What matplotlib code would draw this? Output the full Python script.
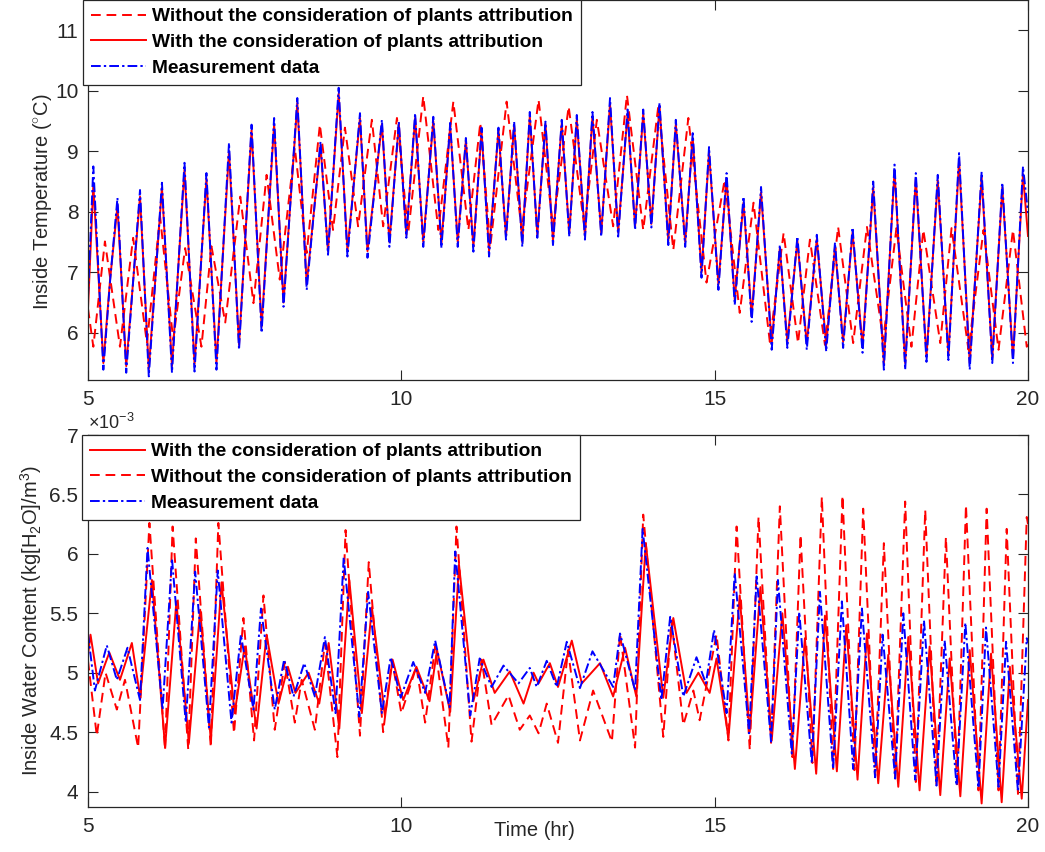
import matplotlib
matplotlib.use("Agg")
import matplotlib.pyplot as plt
import numpy as np

plt.rcParams['font.family'] = ['Liberation Sans', 'DejaVu Sans']
plt.rcParams['mathtext.fontset'] = 'custom'
plt.rcParams['mathtext.rm'] = 'Liberation Sans'
plt.rcParams['mathtext.it'] = 'Liberation Sans:italic'

# ---- top panel: inside temperature (deg C), values read at the peaks/troughs ----
t_temp = [5.00, 5.085, 5.245, 5.35, 5.47, 5.61, 5.83, 5.97, 6.18, 6.34, 6.54, 6.70, 6.89, 7.05,
          7.25, 7.41, 7.61, 7.77, 7.97, 8.12, 8.34, 8.49, 8.71, 8.83, 9.00, 9.14, 9.34, 9.46,
          9.69, 9.81, 9.96, 10.08, 10.22, 10.35, 10.51, 10.64, 10.78, 10.90, 11.03, 11.15, 11.28,
          11.40, 11.55, 11.67, 11.80, 11.93, 12.05, 12.17, 12.30, 12.42, 12.56, 12.68, 12.80,
          12.93, 13.05, 13.19, 13.33, 13.46, 13.61, 13.73, 13.86, 13.99, 14.12, 14.26, 14.38,
          14.53, 14.65, 14.79, 14.91, 15.06, 15.19, 15.32, 15.46, 15.59, 15.74, 15.91, 16.04,
          16.16, 16.32, 16.47, 16.63, 16.78, 16.92, 17.05, 17.20, 17.36, 17.53, 17.70, 17.87,
          18.04, 18.21, 18.38, 18.56, 18.73, 18.90, 19.07, 19.26, 19.43, 19.59, 19.76, 19.92, 20.00]
temp_meas = [6.6, 8.75, 5.39, 6.83, 8.23, 5.34, 8.36, 5.28, 8.48, 5.34, 8.81, 5.36, 8.64, 5.39,
             9.14, 5.72, 9.44, 6.00, 9.55, 6.43, 9.88, 6.71, 9.16, 7.29, 10.05, 7.26, 9.63, 7.24,
             9.52, 7.42, 9.49, 7.57, 9.63, 7.42, 9.57, 7.40, 9.47, 7.42, 9.22, 7.34, 9.39,
             7.26, 9.39, 7.54, 9.49, 7.42, 9.65, 7.57, 9.49, 7.45, 9.52, 7.59, 9.60,
             7.54, 9.65, 7.59, 9.88, 7.59, 9.69, 7.70, 9.69, 7.74, 9.80, 7.45, 9.52,
             7.42, 9.30, 6.91, 9.07, 6.71, 8.64, 6.46, 8.25, 6.18, 8.41, 5.72, 7.45,
             5.75, 7.59, 5.72, 7.62, 5.69, 7.49, 5.75, 7.74, 5.67, 8.50, 5.39, 8.78,
             5.39, 8.64, 5.52, 8.61, 5.55, 8.97, 5.39, 8.66, 5.50, 8.48, 5.50, 8.75, 7.98]
temp_with = [6.4, 8.45, 5.50, 6.85, 8.10, 5.45, 8.25, 5.40, 8.40, 5.45, 8.70, 5.48, 8.55, 5.50,
             9.00, 5.80, 9.35, 6.10, 9.45, 6.50, 9.80, 6.80, 9.10, 7.35, 9.95, 7.35, 9.55, 7.35,
             9.45, 7.50, 9.45, 7.62, 9.55, 7.50, 9.50, 7.48, 9.42, 7.50, 9.18, 7.42, 9.33,
             7.35, 9.35, 7.60, 9.43, 7.50, 9.58, 7.62, 9.45, 7.52, 9.46, 7.65, 9.53,
             7.60, 9.58, 7.65, 9.78, 7.66, 9.62, 7.76, 9.62, 7.80, 9.75, 7.52, 9.45,
             7.50, 9.22, 7.00, 8.98, 6.80, 8.55, 6.55, 8.15, 6.28, 8.32, 5.82, 7.40,
             5.85, 7.52, 5.82, 7.55, 5.80, 7.42, 5.85, 7.66, 5.78, 8.40, 5.50, 8.68,
             5.50, 8.55, 5.60, 8.52, 5.63, 8.85, 5.50, 8.57, 5.58, 8.40, 5.58, 8.62, 7.60]
t_temp_without = [5.00, 5.085, 5.27, 5.51, 5.72, 5.94, 6.15, 6.36, 6.55, 6.81, 6.97, 7.19, 7.43,
                  7.64, 7.85, 8.06, 8.30, 8.49, 8.70, 8.91, 9.10, 9.31, 9.53, 9.71, 9.93, 10.11,
                  10.35, 10.59, 10.83, 11.07, 11.26, 11.42, 11.68, 11.92, 12.19, 12.42, 12.67,
                  12.92, 13.12, 13.38, 13.60, 13.86, 14.10, 14.34, 14.58, 14.87, 15.16, 15.40,
                  15.62, 15.88, 16.10, 16.33, 16.52, 16.76, 16.97, 17.21, 17.43, 17.69, 17.90,
                  18.14, 18.33, 18.60, 18.78, 19.05, 19.29, 19.53, 19.76, 19.98, 20.00]
temp_without = [6.4, 5.77, 7.51, 5.77, 7.57, 5.83, 7.92, 5.88, 7.40, 5.77, 7.43, 6.17, 8.25,
                6.49, 8.61, 6.88, 9.06, 7.32, 9.44, 7.70, 9.39, 7.76, 9.52, 7.76, 9.55, 7.65,
                9.91, 7.70, 9.82, 7.70, 9.47, 7.43, 9.82, 7.70, 9.85, 7.76, 9.74,
                7.76, 9.52, 7.76, 9.93, 7.70, 9.74, 7.37, 9.55, 6.83, 8.53, 6.33,
                8.15, 5.85, 7.65, 5.83, 7.54, 5.80, 7.75, 5.83, 7.75, 5.88, 7.73,
                5.77, 7.70, 5.83, 7.73, 5.72, 7.70, 5.72, 7.70, 5.77, 5.80]

# ---- bottom panel: inside water content (x1e-3 kg[H2O]/m^3) ----
t_wc_meas = [5.00, 5.11, 5.30, 5.46, 5.63, 5.83, 5.95, 6.19, 6.34, 6.56, 6.71, 6.93, 7.07, 7.29,
             7.44, 7.64, 7.76, 7.98, 8.13, 8.28, 8.45, 8.62, 8.78, 8.95, 9.08, 9.33, 9.47, 9.69,
             9.83, 9.99, 10.19, 10.38, 10.54, 10.77, 10.86, 11.10, 11.25, 11.44, 11.63, 11.87,
             12.05, 12.16, 12.32, 12.48, 12.64, 12.85, 13.05, 13.38, 13.49, 13.73, 13.85, 14.15,
             14.29, 14.50, 14.71, 14.86, 14.99, 15.19, 15.32, 15.55, 15.67, 15.90, 16.01, 16.23,
             16.35, 16.55, 16.68, 16.89, 17.03, 17.21, 17.35, 17.56, 17.68, 17.88, 18.01, 18.20,
             18.34, 18.54, 18.67, 18.86, 19.00, 19.21, 19.33, 19.53, 19.65, 19.84, 19.98, 20.00]
wc_meas = [5.33, 4.85, 5.23, 4.94, 5.21, 4.77, 6.05, 4.69, 5.96, 4.58, 5.85, 4.54, 5.86, 4.58,
           5.32, 4.69, 5.54, 4.69, 5.11, 4.80, 5.08, 4.80, 5.30, 4.66, 5.97, 4.63, 5.68, 4.66,
           5.13, 4.79, 5.09, 4.83, 5.27, 4.71, 6.02, 4.64, 5.12, 4.88, 5.06, 4.91,
           5.04, 4.88, 5.10, 4.88, 5.26, 4.87, 5.18, 4.88, 5.33, 4.85, 6.21, 4.77,
           5.47, 4.80, 5.13, 4.91, 5.36, 4.66, 5.84, 4.49, 5.81, 4.42, 5.78, 4.32,
           5.51, 4.24, 5.68, 4.19, 5.60, 4.19, 5.54, 4.12, 5.32, 4.11, 5.50, 4.10,
           5.44, 4.05, 5.27, 4.05, 5.42, 4.03, 5.38, 4.04, 5.26, 4.00, 5.29, 5.25]
t_wc_with = [5.00, 5.04, 5.16, 5.34, 5.51, 5.70, 5.83, 6.02, 6.23, 6.41, 6.61, 6.79, 6.96, 7.13,
             7.34, 7.50, 7.69, 7.85, 8.04, 8.19, 8.31, 8.52, 8.69, 8.84, 9.01, 9.17, 9.37, 9.53,
             9.74, 9.86, 10.03, 10.24, 10.45, 10.57, 10.78, 10.92, 11.15, 11.31, 11.49, 11.73,
             11.95, 12.11, 12.19, 12.37, 12.50, 12.72, 12.88, 13.17, 13.38, 13.57, 13.75, 13.90,
             14.18, 14.34, 14.55, 14.74, 14.92, 15.03, 15.22, 15.40, 15.56, 15.73, 15.91, 16.08,
             16.28, 16.44, 16.62, 16.76, 16.95, 17.10, 17.28, 17.43, 17.61, 17.77, 17.93, 18.09,
             18.27, 18.43, 18.60, 18.75, 18.92, 19.07, 19.26, 19.41, 19.58, 19.71, 19.90, 20.00]
wc_with = [5.15, 5.32, 4.91, 5.17, 4.94, 5.25, 4.80, 5.78, 4.37, 5.60, 4.41, 5.53, 4.43, 5.76,
           4.66, 5.22, 4.53, 5.32, 4.74, 5.05, 4.83, 5.00, 4.74, 5.25, 4.53, 5.78, 4.66, 5.55,
           4.63, 5.11, 4.77, 5.05, 4.76, 5.19, 4.67, 5.91, 4.76, 5.11, 4.83, 5.01,
           4.74, 5.00, 4.91, 5.08, 4.88, 5.27, 4.91, 5.08, 4.80, 5.21, 4.80, 6.09,
           4.79, 5.46, 4.83, 5.00, 4.83, 5.12, 4.45, 5.65, 4.50, 5.72, 4.43, 5.50,
           4.19, 5.29, 4.15, 5.48, 4.17, 5.40, 4.10, 5.33, 4.07, 5.15, 4.04, 5.30,
           4.01, 5.22, 3.97, 5.12, 3.96, 5.19, 3.90, 5.16, 3.91, 5.05, 3.94, 4.77]
t_wc_without = [5.00, 5.14, 5.28, 5.46, 5.59, 5.80, 5.98, 6.23, 6.35, 6.60, 6.72, 6.96, 7.08, 7.33,
                7.48, 7.65, 7.80, 7.98, 8.14, 8.30, 8.41, 8.62, 8.78, 8.98, 9.11, 9.34, 9.48, 9.71,
                9.85, 10.00, 10.24, 10.38, 10.54, 10.75, 10.88, 11.12, 11.28, 11.44, 11.71, 11.89,
                12.05, 12.19, 12.32, 12.50, 12.66, 12.85, 13.06, 13.36, 13.49, 13.73, 13.86, 14.18,
                14.31, 14.50, 14.66, 14.76, 15.03, 15.22, 15.35, 15.56, 15.70, 15.90, 16.04, 16.24,
                16.37, 16.56, 16.71, 16.89, 17.04, 17.23, 17.37, 17.56, 17.70, 17.88, 18.04, 18.21,
                18.36, 18.54, 18.69, 18.87, 19.01, 19.21, 19.34, 19.53, 19.66, 19.84, 19.98, 20.00]
wc_without = [5.10, 4.47, 5.00, 4.69, 4.94, 4.37, 6.26, 4.35, 6.23, 4.35, 6.13, 4.37, 6.26, 4.49,
              5.46, 4.43, 5.65, 4.52, 5.09, 4.58, 4.94, 4.52, 5.25, 4.29, 6.20, 4.47, 5.93, 4.50,
              5.11, 4.66, 5.05, 4.58, 5.22, 4.37, 6.23, 4.42, 5.11, 4.56, 4.81, 4.52,
              4.64, 4.49, 4.74, 4.41, 5.19, 4.43, 4.85, 4.42, 5.33, 4.37, 6.33, 4.46,
              5.44, 4.56, 4.85, 4.60, 5.32, 4.43, 6.23, 4.35, 6.31, 4.41, 6.40, 4.29,
              6.16, 4.24, 6.48, 4.19, 6.49, 4.18, 6.38, 4.13, 6.09, 4.11, 6.44, 4.08,
              6.37, 4.05, 6.14, 4.04, 6.41, 4.01, 6.38, 4.01, 6.21, 3.98, 6.31, 6.25]

lab_without = "Without the consideration of plants attribution"
lab_with = "With the consideration of plants attribution"
lab_meas = "Measurement data"

W, H = 1045, 852
fig = plt.figure(figsize=(W / 100, H / 100), dpi=100)
axc = '#262626'
dash = (5, 3)
dashdot = (5, 1.6, 1.2, 1.6)


def style_axes(ax):
    for s in ax.spines.values():
        s.set_color(axc)
        s.set_linewidth(0.9)
    ax.tick_params(direction='in', length=7, width=0.8, colors=axc, labelsize=15,
                   top=True, right=True, pad=7)
    ax.set_xlim(5, 20)
    ax.set_xticks([5, 10, 15, 20])


def add_legend(ax, handles, x0, y0):
    leg = ax.legend(handles=handles, loc='upper left', bbox_to_anchor=(x0 / W, 1 - y0 / H),
                    bbox_transform=fig.transFigure, borderaxespad=0, fancybox=False,
                    framealpha=1, edgecolor=axc, handlelength=2.85, handletextpad=0.35,
                    labelspacing=0.43, borderpad=0.42,
                    prop={'weight': 'bold', 'size': 13.8})
    leg.get_frame().set_linewidth(0.9)
    return leg


# top axes
ax1 = fig.add_axes([88 / W, 1 - 380 / H, 940 / W, 380 / H])
l_wo, = ax1.plot(t_temp_without, temp_without, '--', color='red', lw=1.4, dashes=dash,
                 label=lab_without)
l_w, = ax1.plot(t_temp, temp_with, '-', color='red', lw=1.4, label=lab_with)
l_m, = ax1.plot(t_temp, temp_meas, '-.', color='blue', lw=1.4, dashes=dashdot, label=lab_meas)
ax1.set_ylim(5.22, 11.5)
ax1.set_yticks([6, 7, 8, 9, 10, 11])
style_axes(ax1)
ax1.set_ylabel(r'Inside Temperature ($^{\circ}$C)', fontsize=14.5, color=axc)
ax1.yaxis.set_label_coords(-0.036, 0.47)
add_legend(ax1, [l_wo, l_w, l_m], 83, 0)

# bottom axes
ax2 = fig.add_axes([88 / W, 1 - 807 / H, 940 / W, 372 / H])
b_w, = ax2.plot(t_wc_with, wc_with, '-', color='red', lw=1.4, label=lab_with)
b_wo, = ax2.plot(t_wc_without, wc_without, '--', color='red', lw=1.4, dashes=dash,
                 label=lab_without)
b_m, = ax2.plot(t_wc_meas, wc_meas, '-.', color='blue', lw=1.4, dashes=dashdot, label=lab_meas)
ax2.set_ylim(3.87, 7.0)
ax2.set_yticks([4, 4.5, 5, 5.5, 6, 6.5, 7])
ax2.set_yticklabels(['4', '4.5', '5', '5.5', '6', '6.5', '7'])
style_axes(ax2)
ax2.set_ylabel(r'Inside Water Content (kg[H$_2$O]/m$^3$)', fontsize=14.5, color=axc)
ax2.yaxis.set_label_coords(-0.047, 0.5)
ax2.text(0.0, 1.005, r'$\times 10^{-3}$', transform=ax2.transAxes, fontsize=13,
         color=axc, ha='left', va='bottom')
add_legend(ax2, [b_w, b_wo, b_m], 82, 435)

fig.text(534 / W, 1 - 830 / H, 'Time (hr)', fontsize=14.5, color=axc, ha='center', va='center')

fig.savefig('out.png', dpi=100)
